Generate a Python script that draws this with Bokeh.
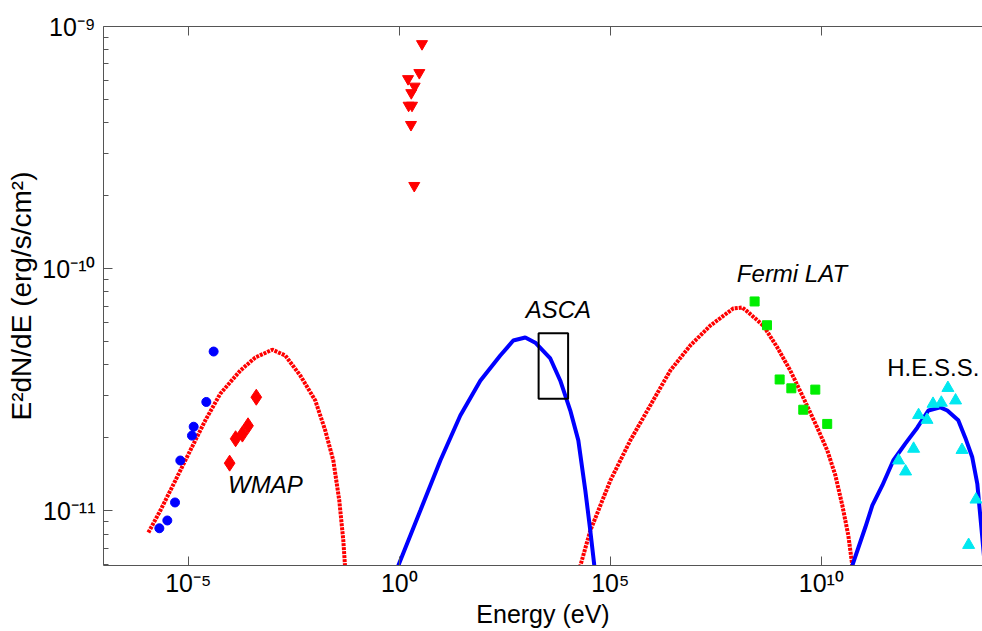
from bokeh.plotting import figure
from bokeh.models import Range1d, FixedTicker, LogAxis, Label
from bokeh.embed import file_html
from bokeh.resources import INLINE

# ---- data (energy in eV, flux E^2 dN/dE in erg/s/cm^2) ----
radio_E = [3.98e-5, 2.67e-5, 1.34e-5, 1.22e-5, 6.46e-6, 4.84e-6, 3.18e-6, 2.06e-6]
radio_F = [4.54e-11, 2.81e-11, 2.22e-11, 2.04e-11, 1.61e-11, 1.08e-11, 9.10e-12, 8.45e-12]

wmap_E = [4.08e-4, 2.60e-4, 1.91e-4, 1.32e-4, 9.53e-5]
wmap_F = [2.94e-11, 2.24e-11, 2.07e-11, 1.98e-11, 1.57e-11]

opt_E = [3.45, 2.98, 1.61, 2.31, 1.92, 1.66, 2.00, 1.89, 2.26]
opt_F = [8.48e-10, 6.44e-10, 6.08e-10, 5.66e-10, 5.32e-10, 4.72e-10, 4.72e-10, 3.93e-10, 2.20e-10]

fermi_E = [2.63e8, 5.16e8, 1.03e9, 1.95e9, 7.21e9, 3.74e9, 1.38e10]
fermi_F = [7.31e-11, 5.83e-11, 3.48e-11, 3.20e-11, 3.16e-11, 2.61e-11, 2.28e-11]

hess_E = [1.00e13, 4.44e12, 6.98e12, 1.52e13, 2.02e12, 3.20e12, 1.54e12, 6.79e11,
          9.95e11, 2.16e13, 4.63e13, 3.10e13]
hess_F = [3.21e-11, 2.76e-11, 2.79e-11, 2.85e-11, 2.48e-11, 2.37e-11, 1.80e-11, 1.61e-11,
          1.45e-11, 1.78e-11, 1.11e-11, 7.21e-12]

sync_E = [1.13e-6, 2.17e-6, 4.92e-6, 1.11e-5, 2.53e-5, 5.73e-5, 1.71e-4, 3.87e-4, 9.79e-4,
          1.99e-3, 4.51e-3, 1.02e-2, 1.76e-2, 2.73e-2, 3.78e-2, 4.71e-2, 5.86e-2]
sync_F = [8.11e-12, 1.00e-11, 1.33e-11, 1.77e-11, 2.36e-11, 3.04e-11, 3.79e-11, 4.29e-11, 4.62e-11,
          4.37e-11, 3.61e-11, 2.85e-11, 2.14e-11, 1.61e-11, 1.10e-11, 7.52e-12, 4.25e-12]

therm_E = [0.548, 3.15, 9.38, 27.9, 83.0, 247, 502, 968, 1671, 3784, 6531, 11272, 17458,
           25586, 33574, 41783, 49204]
therm_F = [4.67e-12, 1.00e-11, 1.61e-11, 2.47e-11, 3.44e-11, 4.37e-11, 5.04e-11, 5.19e-11, 4.94e-11,
           4.25e-11, 3.44e-11, 2.59e-11, 1.95e-11, 1.21e-11, 8.26e-12, 5.93e-12, 4.67e-12]

ic_E = [13274, 33574, 1.0e5, 2.98e5, 8.87e5, 2.64e6, 7.87e6, 2.34e7, 8.22e7, 1.34e8, 1.67e8,
        4.23e8, 9.06e8, 1.84e9, 3.74e9, 8.04e9, 1.39e10, 2.15e10, 3.15e10, 4.37e10, 5.43e10, 5.73e10]
ic_F = [4.67e-12, 8.26e-12, 1.33e-11, 1.95e-11, 2.72e-11, 3.79e-11, 4.81e-11, 5.81e-11, 6.84e-11,
        6.90e-11, 6.70e-11, 5.81e-11, 4.72e-11, 3.79e-11, 2.93e-11, 2.20e-11, 1.77e-11, 1.40e-11,
        1.05e-11, 7.89e-12, 5.93e-12, 4.67e-12]

tev_E = [3.32e10, 5.43e10, 1.10e11, 1.62e11, 2.79e11, 5.08e11, 9.79e11, 1.88e12, 3.44e12, 6.61e12,
         9.68e12, 1.76e13, 2.58e13, 3.78e13, 4.98e13, 6.53e13, 7.69e13]
tev_F = [4.67e-12, 5.93e-12, 8.51e-12, 1.05e-11, 1.27e-11, 1.61e-11, 1.89e-11, 2.20e-11, 2.59e-11,
         2.67e-11, 2.59e-11, 2.36e-11, 2.00e-11, 1.66e-11, 1.29e-11, 7.73e-12, 5.65e-12]

asca_E = [2.0e3, 1.0e4]
asca_F = [2.9e-11, 5.4e-11]

x_ticks = [1e-5, 1e0, 1e5, 1e10]
x_tick_labels = ["10\u207b\u2075", "10\u2070", "10\u2075", "10\u00b9\u2070"]
y_ticks = [1e-11, 1e-10, 1e-9]
y_tick_labels = ["10\u207b\u00b9\u00b9", "10\u207b\u00b9\u2070", "10\u207b\u2079"]
y_minor = [m * 10.0 ** e for e in (-12, -11, -10) for m in range(2, 10)]

FONT = "Liberation Sans"
AXIS_COL = "#555555"

p = figure(width=982, height=631, x_axis_type="log", y_axis_type="log",
           x_range=Range1d(10 ** -7.01, 10 ** 13.82), y_range=Range1d(10 ** -11.227, 1e-9),
           output_backend="svg", toolbar_location=None,
           min_border_left=103, min_border_right=0, min_border_top=26, min_border_bottom=66)
p.outline_line_color = None
p.xgrid.visible = False
p.ygrid.visible = False
p.background_fill_color = "white"

# curves
p.line(sync_E, sync_F, color="#ff0000", line_width=4, line_dash="3 1")
p.line(ic_E, ic_F, color="#ff0000", line_width=4, line_dash="3 1")
p.line(therm_E, therm_F, color="#0000ff", line_width=4)
p.line(tev_E, tev_F, color="#0000ff", line_width=4)

# ASCA box
p.quad(left=[asca_E[0]], right=[asca_E[1]], bottom=[asca_F[0]], top=[asca_F[1]],
       fill_color=None, line_color="black", line_width=2)

# data points
p.scatter(radio_E, radio_F, marker="circle", size=9, color="#0000ff")
p.scatter(wmap_E, wmap_F, marker="diamond", size=16, color="#ff0000")
p.scatter(opt_E, opt_F, marker="inverted_triangle", size=11, color="#ff0000")
p.scatter(fermi_E, fermi_F, marker="square", size=9, color="#00ee00")
p.scatter(hess_E, hess_F, marker="triangle", size=12, color="#00e8f0")

# text labels
for txt, xe, yf, style in [("WMAP", 6.68e-4, 1.28e-11, "italic"),
                           ("ASCA", 5.86e3, 6.78e-11, "italic"),
                           ("Fermi LAT", 2.02e9, 9.53e-11, "italic"),
                           ("H.E.S.S.", 4.51e12, 3.90e-11, "normal")]:
    p.add_layout(Label(x=xe, y=yf, text=txt, text_font=FONT, text_font_size="24px",
                       text_font_style=style, text_align="center", text_baseline="middle",
                       text_color="black"))

# axes
xa = p.xaxis[0]
xa.ticker = FixedTicker(ticks=x_ticks, minor_ticks=[])
xa.major_label_overrides = dict(zip(x_ticks, x_tick_labels))
xa.axis_label = "Energy (eV)"

ya = p.yaxis[0]
ya.ticker = FixedTicker(ticks=y_ticks, minor_ticks=y_minor)
ya.major_label_overrides = dict(zip(y_ticks, y_tick_labels))
ya.axis_label = "E\u00b2dN/dE (erg/s/cm\u00b2)"

for ax in (xa, ya):
    ax.axis_line_color = AXIS_COL
    ax.major_tick_line_color = AXIS_COL
    ax.minor_tick_line_color = AXIS_COL
    ax.major_tick_in = 9
    ax.major_tick_out = 0
    ax.minor_tick_in = 5
    ax.minor_tick_out = 0
    ax.major_label_text_font = FONT
    ax.major_label_text_font_size = "25px"
    ax.major_label_text_color = "black"
    ax.axis_label_text_font = FONT
    ax.axis_label_text_font_style = "normal"
    ax.axis_label_text_color = "black"

xa.axis_label_text_font_size = "25px"
xa.major_label_standoff = 3
xa.axis_label_standoff = 0
ya.axis_label_text_font_size = "28px"
ya.major_label_standoff = 8
ya.axis_label_standoff = 2

top = LogAxis(ticker=FixedTicker(ticks=x_ticks, minor_ticks=[]),
              axis_line_color=AXIS_COL, major_tick_line_color=AXIS_COL,
              major_tick_in=9, major_tick_out=0, minor_tick_in=0, minor_tick_out=0,
              major_label_text_color=None, major_label_text_font_size="1px",
              major_label_standoff=0)
p.add_layout(top, "above")

open("out.html", "w").write(file_html(p, INLINE))
